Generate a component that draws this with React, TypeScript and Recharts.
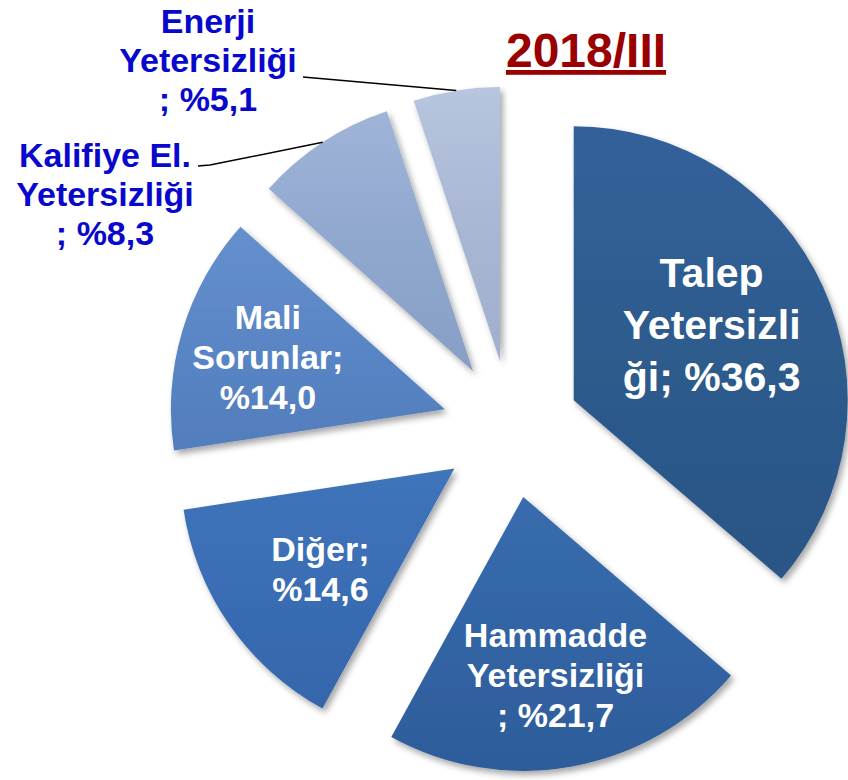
import React from 'react';
import { PieChart, Pie, Cell } from 'recharts';

// ---- data ----
const categories = [
  'Talep Yetersizliği',
  'Hammadde Yetersizliği',
  'Diğer',
  'Mali Sorunlar',
  'Kalifiye El. Yetersizliği',
  'Enerji Yetersizliği',
];
const shares = [36.3, 21.7, 14.6, 14.0, 8.3, 5.1];
// label text lines (the formatted share is appended to the last line)
const labelParts = [
  ['Talep', 'Yetersizli', 'ği; '],
  ['Hammadde', 'Yetersizliği', '; '],
  ['Diğer;', ''],
  ['Mali', 'Sorunlar;', ''],
  ['Kalifiye El.', 'Yetersizliği', '; '],
  ['Enerji', 'Yetersizliği', '; '],
];
const title = '2018/III';

// ---- style / layout ----
const FONT = '"Liberation Sans", Arial, Helvetica, sans-serif';
const CX = 511;
const CY = 429;
const R = 274;
const EXPLODE = 69;
const RAD = Math.PI / 180;

const gradients = [
  ['#33619A', '#2D5B8D', '#2A5586'],
  ['#386CAE', '#3264A4', '#2E5C9A'],
  ['#3F74BA', '#3A6DB4', '#3566AA'],
  ['#6690CC', '#5A86C6', '#527DBD'],
  ['#A0B4D8', '#90A7CE', '#879EC6'],
  ['#B8C5DE', '#A9B7D4', '#A0AFCD'],
];

// inside labels: ratio along mid angle, font size, line height, fine offsets
const insideLayout: Record<number, { r: number; fs: number; lh: number; dx: number; dy: number }> = {
  0: { r: 0.57, fs: 41, lh: 52, dx: -4, dy: -10 },
  1: { r: 0.66, fs: 34, lh: 40, dx: 0, dy: 0 },
  2: { r: 0.61, fs: 34, lh: 40, dx: 3, dy: 5 },
  3: { r: 0.674, fs: 34, lh: 40, dx: 0, dy: 0 },
};
// outside labels: text centre x, first baseline, line height, leader line start points
const outsideLayout: Record<number, { x: number; y: number; lh: number; pts: number[][] }> = {
  4: { x: 105, y: 167, lh: 39, pts: [[198, 166], [210, 165]] },
  5: { x: 208, y: 33, lh: 39, pts: [[303, 77]] },
};

const fmt = (v: number) => `%${v.toFixed(1).replace('.', ',')}`;

const makeLabel = (k: number) => (props: any) => {
  const { index, cx, cy, midAngle, outerRadius } = props;
  if (index !== k) return <g key={`e-${k}-${index}`} />;
  const lines = labelParts[k].slice();
  lines[lines.length - 1] = lines[lines.length - 1] + fmt(shares[k]);
  if (insideLayout[k]) {
    const L = insideLayout[k];
    const x = cx + outerRadius * L.r * Math.cos(midAngle * RAD) + L.dx;
    const y = cy - outerRadius * L.r * Math.sin(midAngle * RAD) + L.dy;
    const n = lines.length;
    return (
      <g key={`l-${k}`}>
        {lines.map((t, i) => (
          <text
            key={i}
            x={x}
            y={y + (i - (n - 1) / 2) * L.lh + 0.35 * L.fs}
            textAnchor="middle"
            fill="#ffffff"
            fontFamily={FONT}
            fontWeight="bold"
            fontSize={L.fs}
          >
            {t}
          </text>
        ))}
      </g>
    );
  }
  const O = outsideLayout[k];
  const ax = cx + outerRadius * Math.cos(midAngle * RAD);
  const ay = cy - outerRadius * Math.sin(midAngle * RAD);
  const pts = [...O.pts, [ax, ay]].map((p) => p.join(',')).join(' ');
  return (
    <g key={`l-${k}`}>
      <polyline points={pts} fill="none" stroke="#000" strokeWidth={1.5} />
      {lines.map((t, i) => (
        <text
          key={i}
          x={O.x}
          y={O.y + i * O.lh}
          textAnchor="middle"
          fill="#0808CC"
          fontFamily={FONT}
          fontWeight="bold"
          fontSize={34}
        >
          {t}
        </text>
      ))}
    </g>
  );
};

export default function App() {
  const data = categories.map((c, i) => ({ name: c, value: shares[i] }));
  const total = shares.reduce((a, b) => a + b, 0);
  let cum = 0;
  const mids = shares.map((v) => {
    const m = ((cum + v / 2) / total) * 360;
    cum += v;
    return m;
  });

  return (
    <div style={{ position: 'absolute', left: 0, top: 0, width: 848, height: 780, background: '#fff' }}>
      <PieChart width={848} height={780} margin={{ top: 0, right: 0, bottom: 0, left: 0 }}>
        <defs>
          <filter id="sh" x="-20%" y="-20%" width="140%" height="140%">
            <feDropShadow dx="3" dy="4" stdDeviation="3" floodColor="#000" floodOpacity="0.35" />
          </filter>
          {gradients.map((g, k) => (
            <linearGradient key={k} id={`g${k}`} x1="0" y1="0" x2="0" y2="1">
              <stop offset="0%" stopColor={g[0]} />
              <stop offset="50%" stopColor={g[1]} />
              <stop offset="100%" stopColor={g[2]} />
            </linearGradient>
          ))}
        </defs>
        {data.map((_, k) => {
          const cx = CX + EXPLODE * Math.sin(mids[k] * RAD);
          const cy = CY - EXPLODE * Math.cos(mids[k] * RAD);
          return (
            <Pie
              key={k}
              data={data}
              dataKey="value"
              nameKey="name"
              cx={cx}
              cy={cy}
              innerRadius={0}
              outerRadius={R}
              startAngle={90}
              endAngle={-270}
              stroke="none"
              isAnimationActive={false}
              labelLine={false}
              label={makeLabel(k)}
            >
              {data.map((d, i) => (
                <Cell
                  key={i}
                  fill={i === k ? `url(#g${k})` : 'none'}
                  stroke="none"
                  filter={i === k ? 'url(#sh)' : undefined}
                />
              ))}
            </Pie>
          );
        })}
        <text
          x={586}
          y={67}
          textAnchor="middle"
          fill="#990000"
          fontFamily={FONT}
          fontWeight="bold"
          fontSize={48}
          textDecoration="underline"
        >
          {title}
        </text>
      </PieChart>
    </div>
  );
}
